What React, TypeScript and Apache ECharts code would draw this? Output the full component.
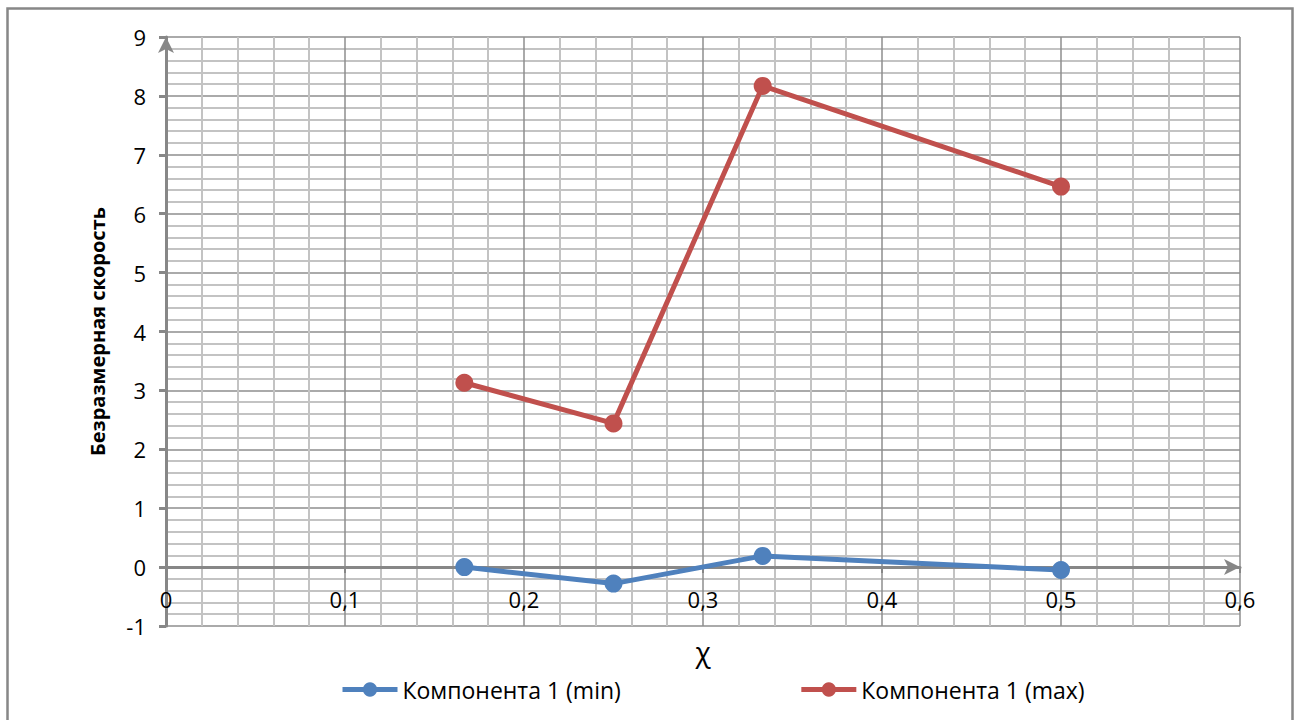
import React, { useEffect, useRef } from "react";
import * as echarts from "echarts";

// χ values and the two velocity components
const chiValues = [1 / 6, 0.25, 1 / 3, 0.5];
const minValues = [0.0, -0.28, 0.19, -0.05];
const maxValues = [3.13, 2.44, 8.17, 6.46];

const seriesNames = ["Компонента 1 (min)", "Компонента 1 (max)"];
const seriesColors = ["#4F81BD", "#C0504D"];
const yTitle = "Безразмерная скорость";
const xTitle = "χ";

const FONT = "'Open Sans', 'Noto Sans', sans-serif";
const AXIS_GRAY = "#878787";
const MAJOR_GRID = "#8e8e8e";
const MINOR_GRID = "#c3c3c3";

const Y_MIN = -1;
const Y_MAX = 9;
const GRID_TOP = 37;
const GRID_H = 589;
// the horizontal axis crosses at y = 0, so shift it up from the grid bottom
const X_AXIS_SHIFT = (GRID_H * (0 - Y_MIN)) / (Y_MAX - Y_MIN);

const fmtComma = (v: number) => String(Math.round(v * 10) / 10).replace(".", ",");

export default function App() {
  const ref = useRef<HTMLDivElement>(null);

  useEffect(() => {
    if (!ref.current) return;
    const chart = echarts.init(ref.current, undefined, { renderer: "svg" });

    const mkSeries = (i: number, vals: number[]) => ({
      name: seriesNames[i],
      type: "line",
      data: chiValues.map((x, k) => [x, vals[k]]),
      symbol: "circle",
      symbolSize: 18,
      lineStyle: { width: 5, color: seriesColors[i] },
      itemStyle: { color: seriesColors[i] },
      z: 3,
    });

    chart.setOption({
      animation: false,
      backgroundColor: "#ffffff",
      grid: {
        left: 166,
        top: GRID_TOP,
        width: 1074,
        height: GRID_H,
        containLabel: false,
        outerBoundsMode: "none",
      },
      legend: {
        left: 335,
        top: 673,
        itemWidth: 55,
        itemHeight: 18,
        itemGap: 178,
        lineStyle: { width: 5 },
        textStyle: { fontFamily: FONT, fontSize: 23, color: "#000" },
        data: seriesNames,
      },
      xAxis: {
        type: "value",
        min: 0,
        max: 0.6,
        interval: 0.1,
        offset: -X_AXIS_SHIFT,
        name: xTitle,
        nameLocation: "middle",
        nameGap: 70,
        nameTextStyle: { fontFamily: FONT, fontSize: 28, color: "#000" },
        axisLine: {
          onZero: false,
          symbol: ["none", "arrow"],
          symbolSize: [12, 16],
          lineStyle: { color: AXIS_GRAY, width: 3 },
        },
        axisTick: { show: true, length: 6, lineStyle: { color: AXIS_GRAY, width: 2 } },
        axisLabel: {
          formatter: fmtComma,
          fontFamily: FONT,
          fontSize: 22,
          color: "#000",
          margin: 21,
        },
        splitLine: { show: true, lineStyle: { color: MAJOR_GRID, width: 1.5 } },
        minorTick: { show: false, splitNumber: 5 },
        minorSplitLine: { show: true, lineStyle: { color: MINOR_GRID, width: 2 } },
      },
      yAxis: {
        type: "value",
        min: Y_MIN,
        max: Y_MAX,
        interval: 1,
        name: yTitle,
        nameLocation: "middle",
        nameGap: 59,
        nameTextStyle: { fontFamily: FONT, fontSize: 20, fontWeight: "bold", color: "#000" },
        axisLine: {
          show: true,
          onZero: false,
          symbol: ["none", "arrow"],
          symbolSize: [12, 16],
          lineStyle: { color: AXIS_GRAY, width: 3 },
        },
        axisTick: { show: true, length: 7, lineStyle: { color: AXIS_GRAY, width: 3 } },
        axisLabel: {
          fontFamily: FONT,
          fontSize: 22,
          color: "#000",
          margin: 20,
          formatter: (v: number) => String(v),
        },
        splitLine: { show: true, lineStyle: { color: MAJOR_GRID, width: 1.5 } },
        minorTick: { show: false, splitNumber: 5 },
        minorSplitLine: { show: true, lineStyle: { color: MINOR_GRID, width: 2 } },
      },
      graphic: [
        {
          type: "rect",
          silent: true,
          shape: { x: 7.5, y: 8.5, width: 1285, height: 720 },
          style: { fill: "none", stroke: "#878787", lineWidth: 2.5 },
        },
      ],
      series: [mkSeries(0, minValues), mkSeries(1, maxValues)],
    });

    return () => chart.dispose();
  }, []);

  return (
    <div
      ref={ref}
      style={{ position: "fixed", left: 0, top: 0, width: 1297, height: 720 }}
    />
  );
}
